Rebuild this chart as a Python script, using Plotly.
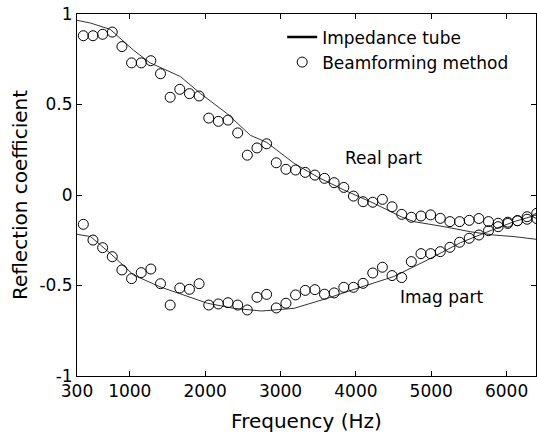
import plotly.graph_objects as go

# Beamforming method samples (Hz)
freq_pts = [384 + 128 * k for k in range(48)]
real_pts = [0.88, 0.88, 0.888, 0.90, 0.82, 0.73, 0.73, 0.742, 0.67, 0.54,
            0.584, 0.56, 0.547, 0.425, 0.407, 0.414, 0.343, 0.22, 0.26, 0.283,
            0.178, 0.142, 0.138, 0.125, 0.11, 0.092, 0.068, 0.042, -0.006, -0.037,
            -0.04, -0.024, -0.065, -0.107, -0.123, -0.116, -0.11, -0.129, -0.147, -0.147,
            -0.14, -0.13, -0.147, -0.156, -0.15, -0.142, -0.134, -0.13]
imag_pts = [-0.162, -0.249, -0.291, -0.341, -0.414, -0.462, -0.429, -0.409, -0.49, -0.608,
            -0.514, -0.521, -0.49, -0.608, -0.602, -0.595, -0.608, -0.635, -0.565, -0.549,
            -0.624, -0.598, -0.552, -0.527, -0.523, -0.548, -0.541, -0.51, -0.51, -0.488,
            -0.431, -0.399, -0.445, -0.456, -0.368, -0.324, -0.324, -0.313, -0.289, -0.261,
            -0.239, -0.221, -0.197, -0.175, -0.157, -0.142, -0.12, -0.101]

# Impedance tube curves
tube_real_f = [300, 480, 740, 1050, 1270, 1670, 1940, 2290, 2600, 2820, 3180, 3490,
               3840, 4240, 4600, 4770, 5170, 5520, 5830, 6100, 6400]
tube_real = [0.965, 0.95, 0.915, 0.80, 0.73, 0.655, 0.56, 0.45, 0.33, 0.29, 0.175, 0.10,
             0.028, -0.046, -0.12, -0.147, -0.175, -0.203, -0.221, -0.23, -0.245]
tube_imag_f = [300, 480, 740, 1050, 1400, 1720, 2030, 2380, 2750, 3180, 3620, 4060,
               4500, 4950, 5390, 5750, 6100, 6400]
tube_imag = [-0.217, -0.23, -0.322, -0.442, -0.507, -0.552, -0.598, -0.626, -0.641, -0.626,
             -0.571, -0.51, -0.451, -0.359, -0.263, -0.203, -0.147, -0.11]

x_ticks = [300, 1000, 2000, 3000, 4000, 5000, 6000]
y_ticks = [-1, -0.5, 0, 0.5, 1]
y_tick_text = ["-1", "-0.5", "0", "0.5", "1"]

FONT = "DejaVu Sans, Arial, sans-serif"
line_style = dict(color="#333333", width=1)
marker_style = dict(symbol="circle-open", size=10, color="black", line=dict(width=1, color="black"))

fig = go.Figure()
fig.add_trace(go.Scatter(x=tube_real_f, y=tube_real, mode="lines", line=line_style,
                         name="Impedance tube", showlegend=False, legendgroup="t"))
fig.add_trace(go.Scatter(x=tube_imag_f, y=tube_imag, mode="lines", line=line_style,
                         name="Impedance tube", showlegend=False, legendgroup="t"))
# legend-only entry (bolder sample line, as in the reference legend)
fig.add_trace(go.Scatter(x=[None], y=[None], mode="lines", line=dict(color="black", width=2.5),
                         name="Impedance tube", legendgroup="t"))
fig.add_trace(go.Scatter(x=freq_pts, y=real_pts, mode="markers", marker=marker_style,
                         name="Beamforming method", legendgroup="b"))
fig.add_trace(go.Scatter(x=freq_pts, y=imag_pts, mode="markers", marker=marker_style,
                         name="Beamforming method", showlegend=False, legendgroup="b"))

fig.add_annotation(x=4368, y=0.204, text="Real part", showarrow=False,
                   font=dict(family=FONT, size=17, color="black"))
fig.add_annotation(x=5138, y=-0.565, text="Imag part", showarrow=False,
                   font=dict(family=FONT, size=17, color="black"))

axis_common = dict(showline=True, linecolor="black", linewidth=1, mirror="ticks",
                   ticks="inside", ticklen=5, tickcolor="black", showgrid=False,
                   zeroline=False, automargin=False,
                   tickfont=dict(family=FONT, size=17, color="black"))

fig.update_xaxes(range=[300, 6390], tickvals=x_ticks, ticktext=[str(v) for v in x_ticks],
                 title=dict(text="Frequency (Hz)", font=dict(family=FONT, size=20, color="black"),
                            standoff=13),
                 **axis_common)
fig.update_yaxes(range=[-1, 1], tickvals=y_ticks, ticktext=y_tick_text,
                 title=dict(text="Reflection coefficient", font=dict(family=FONT, size=20, color="black"),
                            standoff=6),
                 **axis_common)

fig.update_layout(
    width=537, height=435,
    margin=dict(l=77, r=1, t=14, b=59),
    paper_bgcolor="white", plot_bgcolor="white",
    font=dict(family=FONT, size=17, color="black"),
    legend=dict(x=0.447, y=0.985, xanchor="left", yanchor="top", bgcolor="rgba(0,0,0,0)",
                font=dict(family=FONT, size=17, color="black"), itemwidth=30,
                tracegroupgap=0),
    showlegend=True,
)

fig.write_html("out.html", config={"displayModeBar": False},
               post_script="document.body.style.margin='0';document.body.style.padding='0';")
